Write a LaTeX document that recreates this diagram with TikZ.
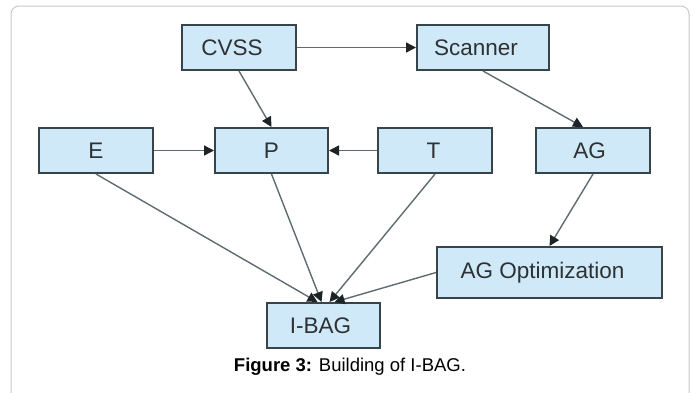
\documentclass[tikz,border=0pt]{standalone}
\usepackage{fontspec}
\setmainfont{Liberation Sans}
\usetikzlibrary{arrows.meta}
\definecolor{boxfill}{HTML}{CFE9F8}
\definecolor{boxline}{HTML}{37444A}
\definecolor{conn}{HTML}{5E6C72}
\definecolor{tip}{HTML}{1E2326}
\definecolor{frame}{HTML}{C8C8C8}
\definecolor{txt}{HTML}{2E3133}
\tikzset{
  blk/.style={draw=boxline, line width=2pt, fill=boxfill, inner sep=0pt, text=txt,
    font=\fontsize{22.5}{26}\selectfont},
  conn/.style={draw=conn, line width=1.4pt, -{Triangle[length=10pt,width=10pt,fill=tip,color=tip]}},
}
\begin{document}
\begin{tikzpicture}[x=1pt,y=-1pt]
\useasboundingbox (0,0) rectangle (696,392);
\clip (0,0) rectangle (696,392);
\draw[frame, line width=1pt, rounded corners=8pt] (11,6) rectangle (689,410);
\node[blk, minimum width=114pt, minimum height=45pt] (cvss) at (239,47.5) {\hspace*{-14pt}CVSS};
\node[blk, minimum width=132pt, minimum height=45pt] (scanner) at (483,47.5) {\hspace*{-14pt}Scanner};
\node[blk, minimum width=114pt, minimum height=45pt] (e) at (96,150.5) {E};
\node[blk, minimum width=113pt, minimum height=45pt] (p) at (271.5,150.5) {P};
\node[blk, minimum width=114pt, minimum height=45pt] (t) at (435,150.5) {\hspace*{-3pt}T};
\node[blk, minimum width=114pt, minimum height=45pt] (ag) at (593,150.5) {\hspace*{-7pt}AG};
\node[blk, minimum width=225pt, minimum height=51pt] (agopt) at (549.5,272.5) {\hspace*{-14pt}AG Optimization};
\node[blk, minimum width=113pt, minimum height=45pt] (ibag) at (323.5,325.5) {\hspace*{-6pt}I-BAG};
\node[font=\fontsize{18.5}{22}\selectfont, text=black] (cap) at (350,367) {\textbf{Figure 3:} Building of I-BAG.};
\draw[conn] (cvss.east) -- (scanner.west);
\draw[conn] (cvss.south) -- (p.north);
\draw[conn] (scanner.south) -- ([xshift=-10pt]ag.north);
\draw[conn] (e.east) -- (p.west);
\draw[conn] (t.west) -- (p.east);
\draw[conn] (ag.south) -- (agopt.north);
\draw[conn] (e.south) -- ([xshift=-6pt]ibag.north);
\draw[conn] (p.south) -- ([xshift=-2pt]ibag.north);
\draw[conn] (t.south) -- ([xshift=6pt]ibag.north);
\draw[conn] (agopt.west) -- ([xshift=11pt]ibag.north);
\end{tikzpicture}
\end{document}
